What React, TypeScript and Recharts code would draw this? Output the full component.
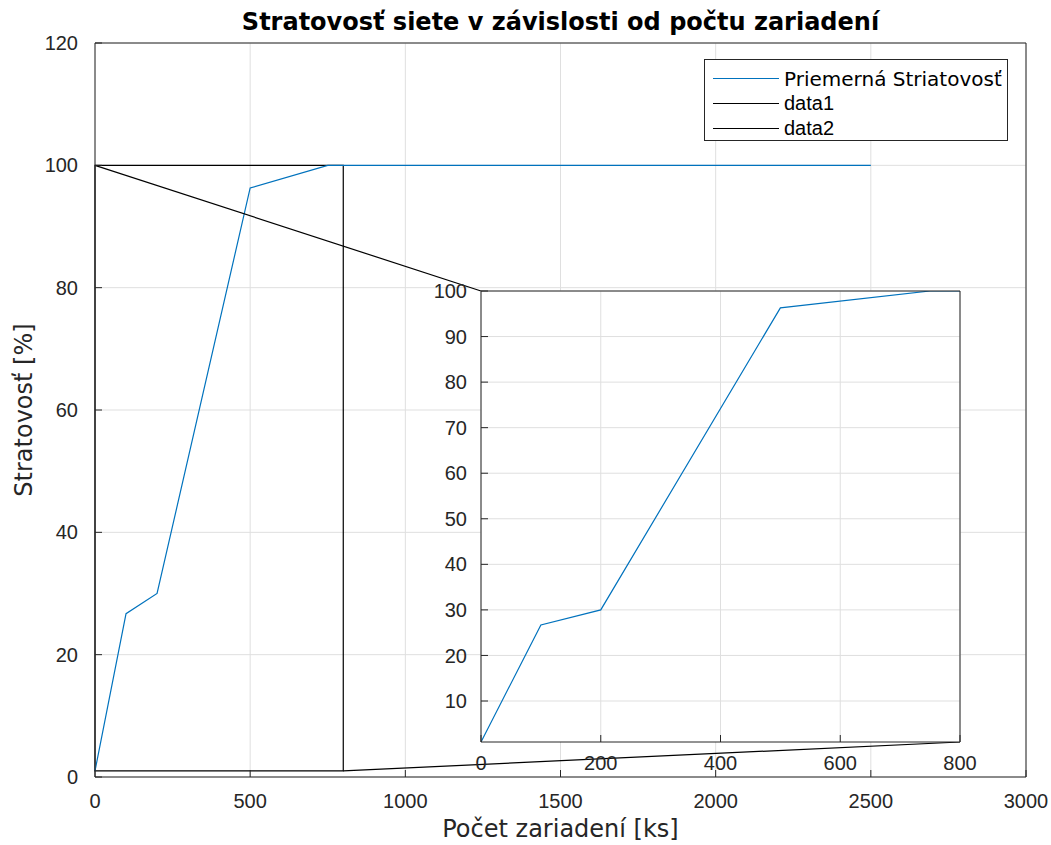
import { LineChart, Line, XAxis, YAxis, CartesianGrid, ReferenceArea, Legend } from 'recharts'

// measured series: devices [ks] -> loss [%]
const devices = [0, 100, 200, 500, 750, 2500]
const lossPct = [1, 26.7, 30, 96.3, 100, 100]

const mainXTicks = [0, 500, 1000, 1500, 2000, 2500, 3000]
const mainYTicks = [0, 20, 40, 60, 80, 100, 120]
const insetXTicks = [0, 200, 400, 600, 800]
const insetYTicks = [10, 20, 30, 40, 50, 60, 70, 80, 90, 100]

// zoomed region shown in the inset
const zoomX = [0, 800]
const zoomY = [1, 100]

// connector lines from the zoom box to the inset corners (main axis units)
const data1X = [0, 1243.8]
const data1Y = [100, 79.46]
const data2X = [800, 2787.4]
const data2Y = [1, 5.72]

const toPoints = (xs: number[], ys: number[]) => xs.map((x, i) => ({ x, y: ys[i] }))

const lossData = toPoints(devices, lossPct)
const data1 = toPoints(data1X, data1Y)
const data2 = toPoints(data2X, data2Y)

const AXIS = '#262626'
const GRID = '#dfdfdf'
const BLUE = '#0072bd'
const tickFont = { fill: AXIS, fontSize: 20, fontFamily: 'Liberation Sans' }

const LegendBox = ({ payload }: any) => (
    <div style={{
        width: 304,
        height: 82,
        boxSizing: 'border-box',
        border: `1px solid ${AXIS}`,
        background: '#fff',
        paddingTop: 6,
    }}>
        {(payload || []).map((p: any) => (
            <div key={p.value} style={{ display: 'flex', alignItems: 'center', height: 25 }}>
                <div style={{ marginLeft: 8, width: 66, height: 0, borderTop: `1px solid ${p.color}` }} />
                <span style={{
                    marginLeft: 5,
                    fontSize: 20,
                    color: '#000',
                    fontFamily: /[^\x00-\x7f]/.test(p.value) ? 'DejaVu Sans' : 'Liberation Sans',
                }}>{p.value}</span>
            </div>
        ))}
    </div>
)

export default function App() {
    return (
        <div style={{ position: 'absolute', left: 0, top: 0, width: 1051, height: 845, background: '#fff' }}>
            <div style={{
                position: 'absolute', left: 60, top: 8, width: 1001, textAlign: 'center',
                fontFamily: 'DejaVu Sans', fontWeight: 'bold', fontSize: 24, lineHeight: '28px', color: '#000',
            }}>
                Stratovosť siete v závislosti od počtu zariadení
            </div>
            <div style={{
                position: 'absolute', left: 60, top: 814, width: 1001, textAlign: 'center',
                fontFamily: 'DejaVu Sans', fontSize: 24, lineHeight: '30px', color: AXIS,
            }}>
                Počet zariadení [ks]
            </div>
            <div style={{
                position: 'absolute', left: 24, top: 410, width: 0, height: 0,
            }}>
                <div style={{
                    position: 'absolute', left: -150, top: -15, width: 300, textAlign: 'center',
                    transform: 'rotate(-90deg)', fontFamily: 'DejaVu Sans', fontSize: 24, lineHeight: '30px', color: AXIS,
                    whiteSpace: 'nowrap',
                }}>
                    Stratovosť [%]
                </div>
            </div>

            <div style={{ position: 'absolute', left: 0, top: 0 }}>
                <LineChart width={1051} height={845} margin={{ top: 42, right: 24, bottom: 67, left: 94 }}>
                    <CartesianGrid stroke={GRID} strokeWidth={1}
                        horizontalValues={mainYTicks} verticalValues={mainXTicks} />
                    <XAxis xAxisId={0} dataKey="x" type="number" domain={[0, 3000]} ticks={mainXTicks}
                        height={1} tickSize={-7} tickMargin={24} interval={0}
                        axisLine={{ stroke: AXIS }} tickLine={{ stroke: AXIS }} tick={tickFont} />
                    <XAxis xAxisId="top" orientation="top" dataKey="x" type="number" domain={[0, 3000]} ticks={mainXTicks}
                        height={1} tickSize={-7} axisLine={{ stroke: AXIS }} tickLine={{ stroke: AXIS }} tick={false} />
                    <YAxis yAxisId={0} type="number" domain={[0, 120]} ticks={mainYTicks}
                        width={1} tickSize={-7} tickMargin={24} interval={0}
                        axisLine={{ stroke: AXIS }} tickLine={{ stroke: AXIS }} tick={tickFont} />
                    <YAxis yAxisId="right" orientation="right" type="number" domain={[0, 120]} ticks={mainYTicks}
                        width={1} tickSize={-7} axisLine={{ stroke: AXIS }} tickLine={{ stroke: AXIS }} tick={false} />

                    <ReferenceArea x1={zoomX[0]} x2={zoomX[1]} y1={zoomY[0]} y2={zoomY[1]}
                        fill="none" fillOpacity={0} stroke="#000" strokeWidth={1.2} />

                    <Line data={lossData} dataKey="y" name="Priemerná Striatovosť" type="linear"
                        stroke={BLUE} strokeWidth={1.2} dot={false} activeDot={false} isAnimationActive={false} />
                    <Line data={data1} dataKey="y" name="data1" type="linear"
                        stroke="#000" strokeWidth={1.2} dot={false} activeDot={false} isAnimationActive={false} />
                    <Line data={data2} dataKey="y" name="data2" type="linear"
                        stroke="#000" strokeWidth={1.2} dot={false} activeDot={false} isAnimationActive={false} />

                    <Legend layout="vertical" align="center" verticalAlign="middle" content={<LegendBox />}
                        wrapperStyle={{ left: 704, top: 59, width: 304, height: 82 }} />
                </LineChart>
            </div>

            {/* zoomed inset */}
            <div style={{ position: 'absolute', left: 400, top: 270 }}>
                <LineChart width={600} height={540} margin={{ top: 20, right: 39, bottom: 67, left: 80 }}>
                    <CartesianGrid stroke={GRID} fill="#fff" fillOpacity={1}
                        horizontalValues={insetYTicks} verticalValues={insetXTicks} />
                    <XAxis xAxisId={0} dataKey="x" type="number" domain={[zoomX[0], zoomX[1]]} ticks={insetXTicks}
                        allowDataOverflow height={1} tickSize={-7} tickMargin={21} interval={0}
                        axisLine={{ stroke: AXIS }} tickLine={{ stroke: AXIS }} tick={tickFont} />
                    <XAxis xAxisId="top" orientation="top" dataKey="x" type="number" domain={[zoomX[0], zoomX[1]]}
                        ticks={insetXTicks} allowDataOverflow height={1} tickSize={-7}
                        axisLine={{ stroke: AXIS }} tickLine={{ stroke: AXIS }} tick={false} />
                    <YAxis yAxisId={0} type="number" domain={[zoomY[0], zoomY[1]]} ticks={insetYTicks}
                        allowDataOverflow width={1} tickSize={-7} tickMargin={21} interval={0}
                        axisLine={{ stroke: AXIS }} tickLine={{ stroke: AXIS }} tick={tickFont} />
                    <YAxis yAxisId="right" orientation="right" type="number" domain={[zoomY[0], zoomY[1]]}
                        ticks={insetYTicks} allowDataOverflow width={1} tickSize={-7}
                        axisLine={{ stroke: AXIS }} tickLine={{ stroke: AXIS }} tick={false} />
                    <Line data={lossData} dataKey="y" type="linear" stroke={BLUE} strokeWidth={1.2}
                        dot={false} activeDot={false} isAnimationActive={false} />
                </LineChart>
            </div>
        </div>
    )
}
